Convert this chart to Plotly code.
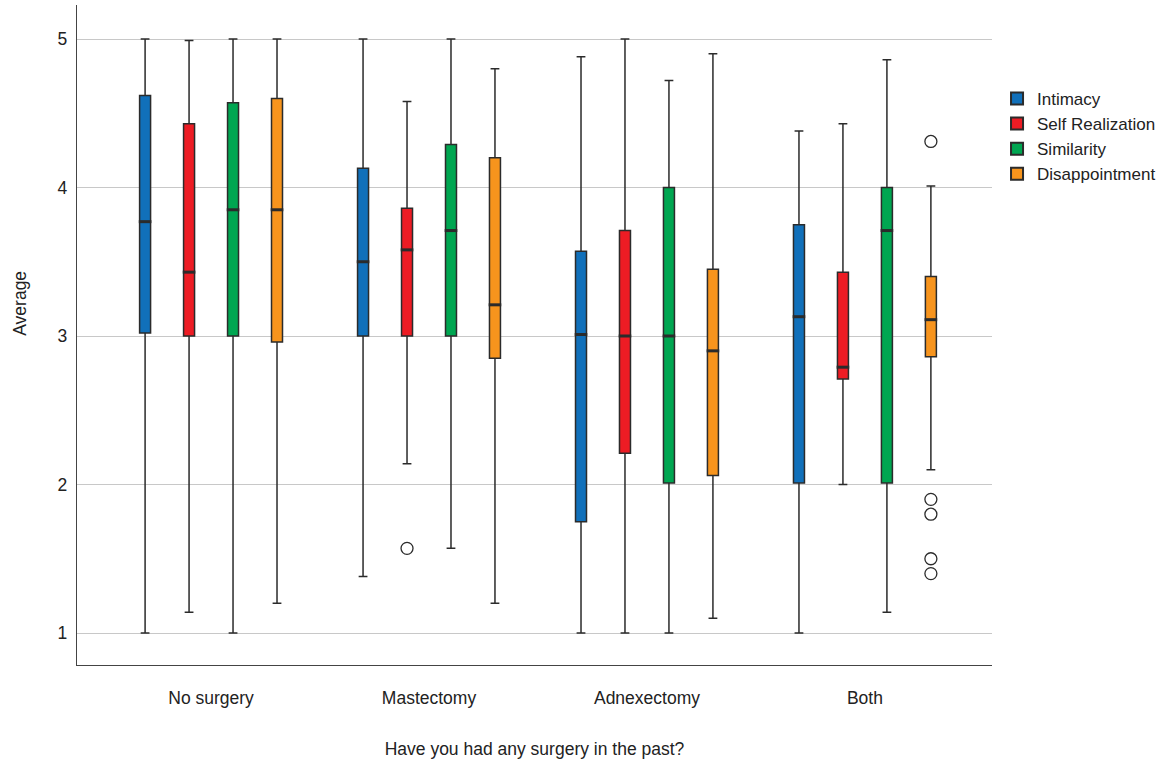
import plotly.graph_objects as go

categories = ["No surgery", "Mastectomy", "Adnexectomy", "Both"]
series = ["Intimacy", "Self Realization", "Similarity", "Disappointment"]
colors = ["#1170BA", "#ED1C24", "#00A651", "#F7941D"]

# five-number summaries per series, one value per surgery category
lower = {
    "Intimacy":         [1.00, 1.38, 1.00, 1.00],
    "Self Realization": [1.14, 2.14, 1.00, 2.00],
    "Similarity":       [1.00, 1.57, 1.00, 1.14],
    "Disappointment":   [1.20, 1.20, 1.10, 2.10],
}
q1 = {
    "Intimacy":         [3.02, 3.00, 1.75, 2.01],
    "Self Realization": [3.00, 3.00, 2.21, 2.71],
    "Similarity":       [3.00, 3.00, 2.01, 2.01],
    "Disappointment":   [2.96, 2.85, 2.06, 2.86],
}
median = {
    "Intimacy":         [3.77, 3.50, 3.01, 3.13],
    "Self Realization": [3.43, 3.58, 3.00, 2.79],
    "Similarity":       [3.85, 3.71, 3.00, 3.71],
    "Disappointment":   [3.85, 3.21, 2.90, 3.11],
}
q3 = {
    "Intimacy":         [4.62, 4.13, 3.57, 3.75],
    "Self Realization": [4.43, 3.86, 3.71, 3.43],
    "Similarity":       [4.57, 4.29, 4.00, 4.00],
    "Disappointment":   [4.60, 4.20, 3.45, 3.40],
}
upper = {
    "Intimacy":         [5.00, 5.00, 4.88, 4.38],
    "Self Realization": [4.99, 4.58, 5.00, 4.43],
    "Similarity":       [5.00, 5.00, 4.72, 4.86],
    "Disappointment":   [5.00, 4.80, 4.90, 4.01],
}

# outliers as (category, value) pairs
outlier_cats = {
    "Intimacy":         [],
    "Self Realization": ["Mastectomy"],
    "Similarity":       [],
    "Disappointment":   ["Both", "Both", "Both", "Both", "Both"],
}
outlier_vals = {
    "Intimacy":         [],
    "Self Realization": [1.57],
    "Similarity":       [],
    "Disappointment":   [4.31, 1.90, 1.80, 1.50, 1.40],
}

FONT = "Liberation Sans, Arial, sans-serif"
FS = 17.5
GAP = 0.193
INK = "#2b2b2b"

fig = go.Figure()
for name, col in zip(series, colors):
    fig.add_trace(go.Box(
        name=name,
        x=categories,
        lowerfence=lower[name], q1=q1[name], median=median[name],
        q3=q3[name], upperfence=upper[name],
        fillcolor=col,
        line=dict(color=INK, width=1.5),
        whiskerwidth=0.8,
        boxpoints=False,
        offsetgroup=name,
        hoverinfo="y",
    ))

for name in series:
    # heavier median bar drawn over each box
    fig.add_trace(go.Scatter(
        x=categories, y=median[name], mode="markers",
        marker=dict(symbol="line-ew", size=9, color=INK,
                    line=dict(width=3, color=INK)),
        offsetgroup=name, showlegend=False, hoverinfo="skip",
    ))
    xs = outlier_cats[name] if outlier_cats[name] else [categories[0]]
    ys = outlier_vals[name] if outlier_vals[name] else [None]
    fig.add_trace(go.Scatter(
        x=xs, y=ys, mode="markers",
        marker=dict(symbol="circle-open", size=12, color=INK,
                    line=dict(width=1.3)),
        offsetgroup=name,
        showlegend=False,
        hoverinfo="y",
    ))

fig.update_layout(
    width=1166, height=763,
    paper_bgcolor="white", plot_bgcolor="white",
    margin=dict(l=77, r=174, t=5, b=98),
    boxmode="group", boxgap=GAP, boxgroupgap=0.75,
    scattermode="group", scattergap=GAP,
    font=dict(family=FONT, size=FS, color="#222"),
    legend=dict(x=1.0055, y=0.885, xanchor="left", yanchor="top",
                font=dict(size=17, color="#222"), tracegroupgap=0,
                itemsizing="constant"),
    xaxis=dict(
        range=[-0.615, 3.583], showgrid=False, showline=True,
        linecolor="#444", linewidth=1.3, ticks="", zeroline=False,
        ticklabelstandoff=17,
        title=dict(text="Have you had any surgery in the past?",
                   font=dict(size=FS), standoff=35),
        tickfont=dict(size=FS),
    ),
    yaxis=dict(
        range=[0.7845, 5.229], showgrid=True, gridcolor="#c8c8c8",
        gridwidth=1.3, tickvals=[1, 2, 3, 4, 5], showline=True,
        linecolor="#444", linewidth=1.3, ticks="", zeroline=False,
        ticklabelstandoff=5,
        tickfont=dict(size=FS),
    ),
    annotations=[dict(
        text="Average", textangle=-90, showarrow=False,
        xref="paper", yref="paper", x=-0.0618, y=0.548,
        xanchor="center", yanchor="middle",
        font=dict(size=FS, color="#222"),
    )],
)

fig.write_html("out.html")
